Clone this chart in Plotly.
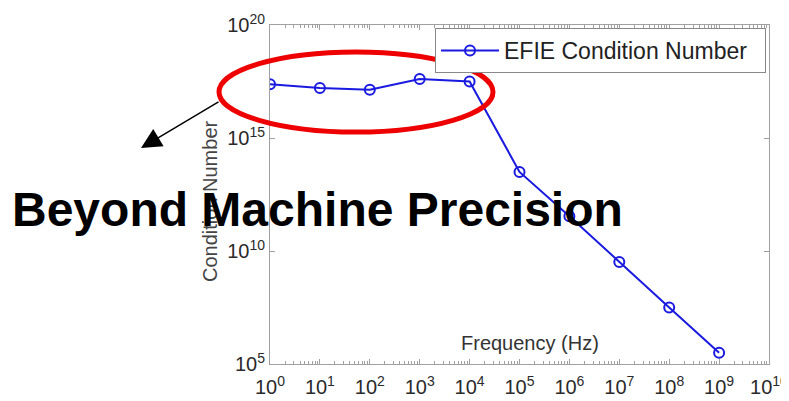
import plotly.graph_objects as go

# ---- data ----
frequency_hz = [1e0, 1e1, 1e2, 1e3, 1e4, 1e5, 1e6, 1e7, 1e8, 1e9]
condition_number = [10**17.38, 10**17.21, 10**17.14, 10**17.61, 10**17.50,
                    10**13.50, 10**11.54, 10**9.51, 10**7.50, 10**5.50]
series_name = "EFIE Condition Number"
x_tick_vals = [10**k for k in range(0, 11)]
x_tick_text = [f"10<sup>{k}</sup>" for k in range(0, 11)]
y_tick_vals = [1e5, 1e10, 1e15, 1e20]
y_tick_text = ["10<sup>5</sup>", "10<sup>10</sup>", "10<sup>15</sup>", "10<sup>20</sup>"]
x_title = "Frequency (Hz)"
y_title = "Condition Number"
callout = "Beyond Machine Precision"

# the page body has an 8px default margin; work in window pixels and convert
OFF = 8
W, H = 789 - OFF, 401 - OFF
PL, PR, PT, PB = 270, 769, 25, 364          # plot area in window pixels
L, T = PL - OFF, PT - OFF
R, B = W - (PR - OFF), H - (PB - OFF)
pw, ph = W - L - R, H - T - B


def px(xp):
    return (xp - PL) / pw


def py(yp):
    return (PB - yp) / ph


FONT = "Arial, Liberation Sans, sans-serif"
BLUE = "#1a1ae0"
AXC = "#a0a0a0"

fig = go.Figure()
fig.add_trace(go.Scatter(
    x=frequency_hz, y=condition_number, mode="lines+markers",
    name=series_name + "\u00a0\u00a0",
    line=dict(color=BLUE, width=2),
    marker=dict(symbol="circle-open", size=10, color=BLUE, line=dict(width=2, color=BLUE)),
))

axis_common = dict(
    type="log", showgrid=False, zeroline=False, showline=True, linecolor=AXC, linewidth=1,
    mirror="ticks", ticks="inside", tickcolor=AXC, ticklen=5,
    tickfont=dict(family=FONT, size=20, color="#2a2a2a"),
)
fig.update_xaxes(range=[0, 10], tickvals=x_tick_vals, ticktext=x_tick_text,
                 minor=dict(ticks="inside", ticklen=3, tickcolor=AXC, dtick="D1"),
                 ticklabelstandoff=5, **axis_common)
fig.update_yaxes(range=[5, 20], tickvals=y_tick_vals, ticktext=y_tick_text, **axis_common)

fig.update_layout(
    width=W, height=H, margin=dict(l=L, r=R, t=T, b=B, autoexpand=False),
    paper_bgcolor="white", plot_bgcolor="white",
    font=dict(family=FONT, color="#333333"),
    showlegend=True,
    legend=dict(x=px(766), y=py(28), xanchor="right", yanchor="top",
                bgcolor="white", bordercolor="#888888", borderwidth=1,
                font=dict(family=FONT, size=23, color="#222222"),
                itemwidth=58, tracegroupgap=0),
)

# red ellipse
fig.add_shape(type="circle", xref="paper", yref="paper",
              x0=px(219), x1=px(493), y0=py(132), y1=py(52),
              line=dict(color="#ee0000", width=5))

# arrow
fig.add_annotation(xref="paper", yref="paper", x=px(141), y=py(148), text="",
                   showarrow=True, ax=79, ay=-47, arrowhead=2, arrowsize=2.7,
                   arrowwidth=1.5, arrowcolor="black")

# axis titles
fig.add_annotation(xref="paper", yref="paper", x=px(210), y=py(201), text=y_title,
                   xanchor="center", yanchor="middle",
                   textangle=-90, showarrow=False,
                   font=dict(family=FONT, size=20, color="#444444"))
fig.add_annotation(xref="paper", yref="paper", x=px(530), y=py(343), text=x_title,
                   xanchor="center", yanchor="middle",
                   showarrow=False, font=dict(family=FONT, size=20, color="#333333"))

# callout text
fig.add_annotation(xref="paper", yref="paper", x=px(317), y=py(209), text=f"<b>{callout}</b>",
                   xanchor="center", yanchor="middle",
                   showarrow=False, font=dict(family=FONT, size=48, color="black"))

# stray marks at right edge
fig.add_annotation(xref="paper", yref="paper", x=px(784), y=py(276), text="'<br>o",
                   xanchor="center", yanchor="middle",
                   showarrow=False, font=dict(family=FONT, size=9, color="#555555"))

fig.write_html("out.html")
